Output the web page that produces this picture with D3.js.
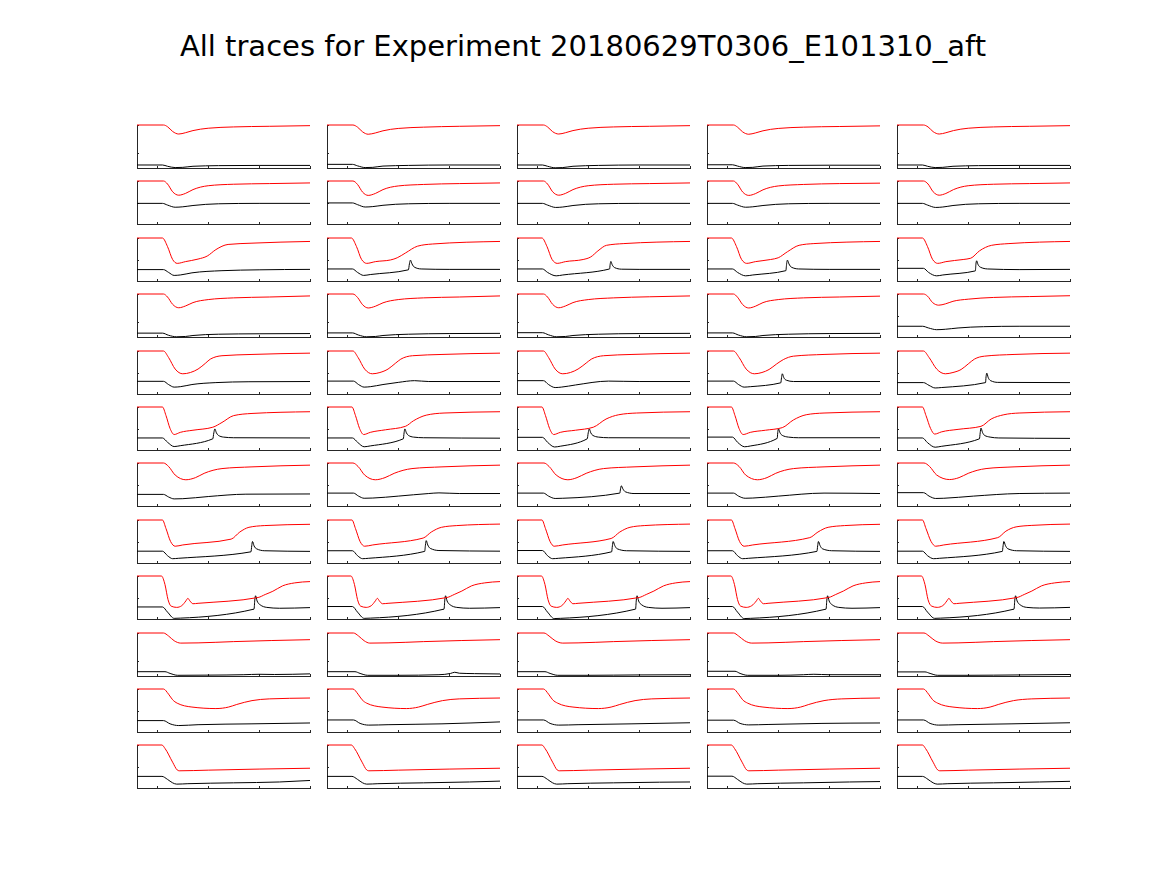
<!DOCTYPE html>
<html><head><meta charset="utf-8">
<script src="https://cdn.jsdelivr.net/npm/d3@7"></script>
<style>body{margin:0;background:#fff}</style></head>
<body>
<svg id="chart" width="1167" height="875"></svg>
<script>
const titleText = "All traces for Experiment 20180629T0306_E101310_aft";
const xDomain = [-0.4, 3];
const xTicks = [0, 1, 2, 3];
// middle y-tick (normalised units, axis spans 0..1) per row, per column
const midTicks = [
  [0.35, 0.35, 0.35, 0.35, 0.35],
  [0.48, 0.48, 0.48, 0.48, 0.48],
  [0.485, 0.485, 0.485, 0.485, 0.485],
  [0.36, 0.36, 0.36, 0.36, 0.485],
  [0.5, 0.5, 0.5, 0.5, 0.5],
  [0.49, 0.49, 0.49, 0.49, 0.49],
  [0.5, 0.5, 0.5, 0.5, 0.5],
  [0.5, 0.5, 0.5, 0.5, 0.5],
  [0.5, 0.5, 0.5, 0.5, 0.5],
  [0.355, 0.355, 0.355, 0.355, 0.355],
  [0.485, 0.485, 0.485, 0.485, 0.485],
  [0.485, 0.485, 0.485, 0.485, 0.485]
];

// ---- row 1 ----
const red1 = [
  [[-0.4,1],[0.12,1],[0.2,0.96],[0.3,0.85],[0.42,0.79],[0.55,0.82],[0.7,0.87],[1,0.925],[1.5,0.955],[2.2,0.97],[3,0.985]],
  [[-0.4,1],[0.11,1],[0.2,0.95],[0.3,0.84],[0.41,0.785],[0.55,0.815],[0.7,0.865],[1,0.92],[1.5,0.95],[2.2,0.97],[3,0.985]],
  [[-0.4,1],[0.12,1],[0.2,0.955],[0.3,0.845],[0.42,0.79],[0.55,0.82],[0.7,0.87],[1,0.925],[1.5,0.955],[2.2,0.97],[3,0.985]],
  [[-0.4,1],[0.12,1],[0.2,0.95],[0.3,0.84],[0.42,0.785],[0.55,0.815],[0.7,0.865],[1,0.92],[1.5,0.95],[2.2,0.965],[3,0.98]],
  [[-0.4,1],[0.12,1],[0.21,0.955],[0.31,0.845],[0.43,0.79],[0.56,0.82],[0.71,0.87],[1,0.925],[1.5,0.955],[2.2,0.97],[3,0.985]]
];
const black1 = [
  [[-0.4,0.07],[0.1,0.07],[0.2,0.04],[0.35,0.01],[0.5,0.015],[0.7,0.04],[1.2,0.055],[2,0.06],[3,0.06]],
  [[-0.4,0.085],[0.1,0.085],[0.2,0.05],[0.35,0.01],[0.5,0.015],[0.7,0.045],[1.2,0.06],[2,0.07],[3,0.07]],
  [[-0.4,0.07],[0.1,0.07],[0.2,0.04],[0.35,0.005],[0.5,0.01],[0.7,0.04],[1.2,0.06],[2,0.07],[3,0.07]],
  [[-0.4,0.075],[0.1,0.075],[0.2,0.045],[0.35,0.01],[0.5,0.015],[0.7,0.045],[1.2,0.06],[2,0.065],[3,0.065]],
  [[-0.4,0.07],[0.1,0.07],[0.2,0.04],[0.35,0.01],[0.5,0.015],[0.7,0.04],[1.2,0.055],[2,0.06],[3,0.06]]
];
// ---- row 2 ----
const red2 = [
  [[-0.4,1],[0.12,1],[0.2,0.93],[0.3,0.75],[0.42,0.67],[0.55,0.71],[0.7,0.8],[1,0.89],[1.5,0.925],[2.2,0.94],[3,0.955]],
  [[-0.4,1],[0.11,1],[0.2,0.92],[0.3,0.74],[0.41,0.665],[0.55,0.71],[0.7,0.8],[1,0.885],[1.5,0.92],[2.2,0.94],[3,0.955]],
  [[-0.4,1],[0.12,1],[0.2,0.93],[0.3,0.75],[0.42,0.67],[0.55,0.71],[0.7,0.8],[1,0.89],[1.5,0.925],[2.2,0.94],[3,0.955]],
  [[-0.4,1],[0.12,1],[0.2,0.925],[0.3,0.745],[0.42,0.665],[0.55,0.705],[0.7,0.795],[1,0.885],[1.5,0.92],[2.2,0.94],[3,0.95]],
  [[-0.4,1],[0.12,1],[0.21,0.93],[0.31,0.75],[0.43,0.67],[0.56,0.71],[0.71,0.8],[1,0.89],[1.5,0.925],[2.2,0.94],[3,0.955]]
];
const black2 = [
  [[-0.4,0.48],[0.1,0.48],[0.2,0.44],[0.35,0.39],[0.5,0.4],[0.7,0.43],[1.2,0.47],[2,0.48],[3,0.48]],
  [[-0.4,0.49],[0.1,0.49],[0.2,0.45],[0.35,0.395],[0.5,0.405],[0.7,0.435],[1.2,0.47],[2,0.48],[3,0.48]],
  [[-0.4,0.48],[0.1,0.48],[0.2,0.44],[0.36,0.385],[0.5,0.395],[0.7,0.43],[1.2,0.47],[2,0.48],[3,0.48]],
  [[-0.4,0.48],[0.1,0.48],[0.2,0.44],[0.36,0.39],[0.5,0.4],[0.7,0.43],[1.2,0.47],[2,0.48],[3,0.48]],
  [[-0.4,0.48],[0.1,0.48],[0.2,0.44],[0.36,0.385],[0.5,0.395],[0.7,0.43],[1.2,0.47],[2,0.48],[3,0.48]]
];
// ---- row 3 ----
const red3 = [
  [[-0.4,1],[0.1,1],[0.2,0.8],[0.3,0.5],[0.39,0.41],[0.55,0.45],[0.8,0.51],[0.98,0.58],[1.15,0.73],[1.39,0.85],[1.86,0.88],[3,0.92]],
  [[-0.4,1],[0.08,1],[0.18,0.8],[0.28,0.5],[0.38,0.41],[0.55,0.45],[0.85,0.49],[0.98,0.54],[1.14,0.65],[1.38,0.81],[1.67,0.86],[3,0.92]],
  [[-0.4,1],[0.09,1],[0.19,0.8],[0.29,0.5],[0.39,0.41],[0.55,0.45],[0.9,0.5],[1.05,0.56],[1.19,0.7],[1.36,0.83],[1.7,0.87],[3,0.92]],
  [[-0.4,1],[0.08,1],[0.18,0.8],[0.28,0.5],[0.38,0.41],[0.55,0.45],[0.85,0.5],[1,0.54],[1.18,0.68],[1.41,0.83],[1.7,0.87],[3,0.92]],
  [[-0.4,1],[0.1,1],[0.2,0.8],[0.3,0.5],[0.4,0.41],[0.56,0.45],[0.9,0.5],[1.05,0.53],[1.22,0.7],[1.46,0.83],[1.8,0.87],[3,0.92]]
];
const black3 = [
  [[-0.4,0.265],[0.12,0.265],[0.22,0.2],[0.33,0.13],[0.45,0.14],[0.68,0.19],[1.27,0.24],[2,0.26],[3,0.27]],
  [[-0.4,0.28],[0.1,0.28],[0.2,0.2],[0.32,0.13],[0.45,0.15],[1.2,0.26],[1.22,0.4],[1.24,0.485],[1.27,0.4],[1.32,0.32],[1.45,0.28],[2,0.27],[3,0.27]],
  [[-0.4,0.28],[0.1,0.28],[0.2,0.2],[0.37,0.12],[0.5,0.14],[1.42,0.28],[1.43,0.38],[1.445,0.455],[1.47,0.38],[1.52,0.31],[1.65,0.275],[2,0.27],[3,0.27]],
  [[-0.4,0.28],[0.1,0.28],[0.2,0.2],[0.36,0.12],[0.5,0.14],[1.15,0.24],[1.165,0.4],[1.18,0.485],[1.21,0.4],[1.26,0.32],[1.4,0.28],[2,0.27],[3,0.27]],
  [[-0.4,0.295],[0.12,0.295],[0.22,0.2],[0.38,0.12],[0.5,0.14],[1.14,0.235],[1.15,0.38],[1.165,0.47],[1.19,0.39],[1.24,0.32],[1.38,0.28],[2,0.265],[3,0.27]]
];
// ---- row 4 ----
const red4 = [
  [[-0.4,1],[0.12,1],[0.2,0.93],[0.3,0.76],[0.42,0.68],[0.55,0.72],[0.7,0.8],[1,0.87],[1.5,0.91],[2.2,0.93],[3,0.955]],
  [[-0.4,1],[0.11,1],[0.2,0.92],[0.3,0.75],[0.41,0.675],[0.55,0.715],[0.7,0.795],[1,0.87],[1.5,0.91],[2.2,0.93],[3,0.955]],
  [[-0.4,1],[0.12,1],[0.2,0.93],[0.3,0.76],[0.42,0.68],[0.55,0.72],[0.7,0.8],[1,0.87],[1.5,0.91],[2.2,0.935],[3,0.955]],
  [[-0.4,1],[0.12,1],[0.2,0.925],[0.3,0.755],[0.42,0.675],[0.55,0.715],[0.7,0.8],[1,0.87],[1.5,0.91],[2.2,0.93],[3,0.95]],
  [[-0.4,1],[0.12,1],[0.2,0.95],[0.3,0.8],[0.42,0.74],[0.55,0.77],[0.7,0.83],[1,0.88],[1.5,0.92],[2.2,0.94],[3,0.96]]
];
const black4 = [
  [[-0.4,0.09],[0.1,0.09],[0.22,0.04],[0.38,0.005],[0.55,0.012],[0.7,0.035],[1.2,0.065],[2,0.075],[3,0.08]],
  [[-0.4,0.095],[0.1,0.095],[0.22,0.045],[0.38,0.005],[0.55,0.012],[0.7,0.035],[1.2,0.065],[2,0.08],[3,0.085]],
  [[-0.4,0.1],[0.1,0.1],[0.22,0.05],[0.38,0.005],[0.55,0.012],[0.7,0.035],[1.2,0.065],[2,0.08],[3,0.085]],
  [[-0.4,0.095],[0.1,0.095],[0.22,0.045],[0.38,0.005],[0.55,0.012],[0.7,0.035],[1.2,0.065],[2,0.08],[3,0.085]],
  [[-0.4,0.25],[0.1,0.25],[0.22,0.21],[0.38,0.17],[0.55,0.18],[0.8,0.21],[1.3,0.24],[2,0.25],[3,0.25]]
];
// ---- row 5 ----
const red5 = [
  [[-0.4,1],[0.12,1],[0.22,0.85],[0.35,0.58],[0.5,0.47],[0.65,0.5],[0.8,0.58],[0.95,0.72],[1.04,0.81],[1.27,0.89],[1.86,0.92],[3,0.95]],
  [[-0.4,1],[0.11,1],[0.21,0.85],[0.34,0.58],[0.49,0.47],[0.64,0.5],[0.8,0.58],[0.95,0.72],[1.05,0.81],[1.28,0.89],[1.86,0.92],[3,0.95]],
  [[-0.4,1],[0.12,1],[0.22,0.85],[0.35,0.58],[0.5,0.47],[0.65,0.5],[0.8,0.58],[0.96,0.72],[1.06,0.81],[1.3,0.89],[1.86,0.92],[3,0.95]],
  [[-0.4,1],[0.12,1],[0.23,0.85],[0.37,0.58],[0.53,0.47],[0.68,0.5],[0.82,0.57],[0.97,0.7],[1.1,0.8],[1.3,0.88],[1.9,0.92],[3,0.95]],
  [[-0.4,1],[0.12,1],[0.23,0.85],[0.38,0.58],[0.55,0.47],[0.7,0.5],[0.86,0.57],[1,0.7],[1.12,0.81],[1.32,0.88],[1.9,0.92],[3,0.95]]
];
const black5 = [
  [[-0.4,0.295],[0.12,0.295],[0.22,0.22],[0.33,0.16],[0.45,0.17],[0.68,0.22],[1.15,0.265],[1.8,0.285],[3,0.29]],
  [[-0.4,0.3],[0.12,0.3],[0.22,0.22],[0.33,0.16],[0.45,0.17],[0.7,0.22],[1,0.27],[1.32,0.31],[1.6,0.29],[3,0.29]],
  [[-0.4,0.31],[0.12,0.31],[0.22,0.22],[0.35,0.15],[0.47,0.16],[0.75,0.21],[1.4,0.3],[2,0.29],[3,0.29]],
  [[-0.4,0.3],[0.12,0.3],[0.22,0.22],[0.33,0.16],[0.45,0.17],[1.05,0.26],[1.065,0.38],[1.08,0.47],[1.11,0.38],[1.16,0.32],[1.3,0.29],[3,0.29]],
  [[-0.4,0.265],[0.12,0.265],[0.23,0.2],[0.35,0.14],[0.47,0.15],[1.34,0.265],[1.35,0.4],[1.365,0.485],[1.39,0.39],[1.44,0.31],[1.58,0.27],[3,0.265]]
];
// ---- row 6 ----
const red6 = [
  [[-0.4,1],[0.1,1],[0.17,0.8],[0.25,0.5],[0.33,0.36],[0.45,0.41],[0.7,0.46],[1.09,0.53],[1.27,0.64],[1.5,0.8],[1.86,0.85],[3,0.89]],
  [[-0.4,1],[0.09,1],[0.16,0.8],[0.24,0.5],[0.32,0.36],[0.45,0.41],[0.75,0.47],[1.14,0.55],[1.3,0.68],[1.55,0.81],[1.9,0.86],[3,0.89]],
  [[-0.4,1],[0.09,1],[0.16,0.8],[0.24,0.5],[0.32,0.36],[0.45,0.41],[0.75,0.46],[1.1,0.53],[1.35,0.72],[1.6,0.82],[1.95,0.86],[3,0.89]],
  [[-0.4,1],[0.08,1],[0.15,0.8],[0.23,0.5],[0.31,0.36],[0.45,0.41],[0.75,0.46],[1.08,0.52],[1.3,0.7],[1.55,0.82],[1.9,0.86],[3,0.89]],
  [[-0.4,1],[0.1,1],[0.17,0.8],[0.26,0.5],[0.34,0.37],[0.47,0.42],[0.8,0.48],[1.25,0.55],[1.45,0.72],[1.7,0.82],[2,0.86],[3,0.89]]
];
const black6 = [
  [[-0.4,0.28],[0.1,0.28],[0.2,0.18],[0.33,0.08],[0.45,0.1],[1.09,0.26],[1.11,0.4],[1.13,0.49],[1.16,0.4],[1.2,0.34],[1.3,0.3],[1.5,0.285],[3,0.28]],
  [[-0.4,0.28],[0.1,0.28],[0.2,0.18],[0.33,0.075],[0.45,0.095],[1.1,0.26],[1.115,0.4],[1.13,0.49],[1.16,0.4],[1.2,0.34],[1.3,0.3],[1.5,0.285],[3,0.275]],
  [[-0.4,0.295],[0.1,0.295],[0.2,0.18],[0.34,0.07],[0.46,0.09],[0.98,0.26],[1,0.4],[1.02,0.49],[1.05,0.4],[1.09,0.34],[1.2,0.3],[1.4,0.285],[3,0.28]],
  [[-0.4,0.3],[0.1,0.3],[0.2,0.18],[0.34,0.075],[0.46,0.095],[0.98,0.27],[0.99,0.4],[1.005,0.49],[1.035,0.4],[1.08,0.34],[1.2,0.3],[1.4,0.285],[3,0.285]],
  [[-0.4,0.28],[0.1,0.28],[0.2,0.17],[0.35,0.065],[0.47,0.085],[1.22,0.26],[1.235,0.4],[1.25,0.51],[1.28,0.41],[1.32,0.34],[1.43,0.3],[1.6,0.28],[3,0.27]]
];
// ---- row 7 ----
const red7 = [
  [[-0.4,1],[0.12,1],[0.22,0.92],[0.35,0.72],[0.56,0.61],[0.75,0.66],[0.92,0.76],[1.27,0.87],[1.86,0.91],[3,0.95]],
  [[-0.4,1],[0.11,1],[0.21,0.92],[0.34,0.72],[0.55,0.61],[0.74,0.66],[0.92,0.76],[1.27,0.87],[1.86,0.91],[3,0.95]],
  [[-0.4,1],[0.13,1],[0.23,0.92],[0.37,0.72],[0.6,0.61],[0.78,0.66],[0.96,0.76],[1.3,0.87],[1.9,0.91],[3,0.95]],
  [[-0.4,1],[0.12,1],[0.23,0.92],[0.36,0.72],[0.59,0.61],[0.78,0.66],[0.95,0.76],[1.3,0.87],[1.9,0.91],[3,0.95]],
  [[-0.4,1],[0.13,1],[0.24,0.92],[0.38,0.72],[0.63,0.615],[0.82,0.66],[1,0.76],[1.35,0.87],[1.9,0.91],[3,0.95]]
];
const black7 = [
  [[-0.4,0.27],[0.12,0.27],[0.22,0.21],[0.33,0.165],[0.5,0.17],[1,0.22],[1.74,0.275],[3,0.28]],
  [[-0.4,0.3],[0.12,0.3],[0.22,0.23],[0.33,0.18],[0.5,0.185],[1,0.23],[1.6,0.29],[1.8,0.305],[2.2,0.29],[3,0.29]],
  [[-0.4,0.3],[0.12,0.3],[0.22,0.23],[0.35,0.175],[0.5,0.18],[1.62,0.3],[1.635,0.4],[1.65,0.47],[1.68,0.4],[1.73,0.33],[1.9,0.29],[3,0.29]],
  [[-0.4,0.3],[0.12,0.3],[0.22,0.23],[0.35,0.18],[0.5,0.185],[1,0.23],[1.9,0.3],[3,0.29]],
  [[-0.4,0.31],[0.12,0.31],[0.23,0.23],[0.36,0.175],[0.52,0.18],[1.1,0.23],[2,0.29],[3,0.3]]
];
// ---- row 8 ----
const red8 = [
  [[-0.4,1],[0.1,1],[0.17,0.8],[0.26,0.5],[0.35,0.39],[0.5,0.42],[1.45,0.555],[1.62,0.72],[1.8,0.83],[2.1,0.87],[3,0.9]],
  [[-0.4,1],[0.09,1],[0.16,0.8],[0.25,0.5],[0.34,0.39],[0.5,0.42],[1.49,0.58],[1.65,0.72],[1.85,0.83],[2.15,0.87],[3,0.905]],
  [[-0.4,1],[0.09,1],[0.16,0.8],[0.25,0.5],[0.33,0.39],[0.5,0.42],[1.45,0.57],[1.62,0.72],[1.82,0.83],[2.1,0.87],[3,0.905]],
  [[-0.4,1],[0.08,1],[0.15,0.8],[0.24,0.5],[0.33,0.39],[0.5,0.42],[1.62,0.59],[1.78,0.72],[1.98,0.83],[2.3,0.87],[3,0.9]],
  [[-0.4,1],[0.1,1],[0.17,0.8],[0.27,0.5],[0.36,0.39],[0.52,0.42],[1.58,0.59],[1.74,0.74],[1.94,0.84],[2.25,0.875],[3,0.905]]
];
const black8 = [
  [[-0.4,0.275],[0.1,0.275],[0.2,0.17],[0.3,0.1],[0.42,0.11],[1.84,0.26],[1.855,0.4],[1.87,0.5],[1.9,0.4],[1.95,0.33],[2.1,0.285],[3,0.27]],
  [[-0.4,0.285],[0.1,0.285],[0.2,0.17],[0.3,0.1],[0.42,0.11],[1.52,0.27],[1.535,0.42],[1.55,0.52],[1.58,0.42],[1.63,0.34],[1.8,0.29],[3,0.275]],
  [[-0.4,0.29],[0.1,0.29],[0.2,0.17],[0.3,0.1],[0.42,0.11],[1.46,0.26],[1.475,0.4],[1.49,0.5],[1.52,0.41],[1.57,0.33],[1.75,0.285],[3,0.27]],
  [[-0.4,0.285],[0.1,0.285],[0.2,0.17],[0.3,0.1],[0.42,0.11],[1.76,0.27],[1.775,0.4],[1.79,0.5],[1.82,0.41],[1.87,0.33],[2.05,0.285],[3,0.27]],
  [[-0.4,0.275],[0.1,0.275],[0.2,0.17],[0.32,0.1],[0.44,0.11],[1.67,0.27],[1.685,0.4],[1.7,0.5],[1.73,0.41],[1.78,0.33],[1.95,0.285],[3,0.27]]
];
// ---- row 9 ----
const red9 = [
  [[-0.4,1],[0.08,1],[0.15,0.8],[0.21,0.45],[0.27,0.3],[0.38,0.27],[0.48,0.31],[0.56,0.42],[0.6,0.48],[0.64,0.42],[0.7,0.355],[0.8,0.365],[1.98,0.5],[2.12,0.57],[2.27,0.645],[2.46,0.77],[2.7,0.84],[3,0.87]],
  [[-0.4,1],[0.07,1],[0.14,0.8],[0.2,0.45],[0.26,0.3],[0.37,0.27],[0.47,0.31],[0.55,0.42],[0.59,0.48],[0.63,0.42],[0.69,0.355],[0.8,0.365],[1.96,0.5],[2.1,0.57],[2.25,0.65],[2.44,0.77],[2.7,0.84],[3,0.87]],
  [[-0.4,1],[0.08,1],[0.15,0.8],[0.21,0.45],[0.27,0.3],[0.38,0.27],[0.48,0.31],[0.56,0.42],[0.6,0.48],[0.64,0.42],[0.7,0.355],[0.8,0.365],[2,0.5],[2.14,0.57],[2.29,0.65],[2.48,0.77],[2.72,0.84],[3,0.87]],
  [[-0.4,1],[0.07,1],[0.14,0.8],[0.2,0.45],[0.26,0.3],[0.37,0.27],[0.48,0.31],[0.57,0.42],[0.61,0.48],[0.65,0.42],[0.71,0.355],[0.8,0.365],[1.99,0.5],[2.13,0.57],[2.28,0.65],[2.47,0.77],[2.72,0.84],[3,0.87]],
  [[-0.4,1],[0.08,1],[0.15,0.8],[0.21,0.45],[0.28,0.3],[0.39,0.27],[0.5,0.31],[0.58,0.42],[0.62,0.48],[0.66,0.42],[0.72,0.355],[0.82,0.365],[1.96,0.5],[2.1,0.57],[2.25,0.65],[2.44,0.77],[2.7,0.84],[3,0.87]]
];
const black9 = [
  [[-0.4,0.28],[0.1,0.28],[0.2,0.16],[0.33,0.015],[0.45,0.02],[1.9,0.23],[1.915,0.44],[1.93,0.54],[1.96,0.42],[2.02,0.33],[2.15,0.27],[2.4,0.25],[3,0.265]],
  [[-0.4,0.29],[0.1,0.29],[0.2,0.16],[0.33,0.015],[0.45,0.02],[1.9,0.23],[1.915,0.44],[1.93,0.54],[1.96,0.42],[2.02,0.33],[2.15,0.27],[2.4,0.25],[3,0.265]],
  [[-0.4,0.29],[0.1,0.29],[0.2,0.16],[0.33,0.01],[0.45,0.015],[1.93,0.23],[1.945,0.44],[1.96,0.54],[1.99,0.42],[2.05,0.33],[2.18,0.27],[2.45,0.25],[3,0.265]],
  [[-0.4,0.29],[0.1,0.29],[0.2,0.16],[0.33,0.01],[0.45,0.015],[1.94,0.23],[1.955,0.44],[1.97,0.54],[2,0.42],[2.06,0.33],[2.19,0.27],[2.45,0.25],[3,0.265]],
  [[-0.4,0.29],[0.1,0.29],[0.2,0.16],[0.34,0.015],[0.46,0.02],[1.9,0.23],[1.915,0.44],[1.93,0.54],[1.96,0.42],[2.02,0.33],[2.15,0.27],[2.4,0.255],[3,0.27]]
];
// ---- row 10 ----
const red10 = [
  [[-0.4,1],[0.12,1],[0.22,0.93],[0.33,0.82],[0.46,0.765],[0.8,0.77],[1.5,0.8],[3,0.845]],
  [[-0.4,1],[0.12,1],[0.22,0.93],[0.33,0.82],[0.44,0.765],[0.8,0.77],[1.5,0.8],[3,0.845]],
  [[-0.4,1],[0.13,1],[0.23,0.93],[0.35,0.82],[0.5,0.765],[0.8,0.77],[1.5,0.8],[3,0.845]],
  [[-0.4,1],[0.12,1],[0.22,0.93],[0.34,0.82],[0.48,0.765],[0.8,0.77],[1.5,0.8],[3,0.845]],
  [[-0.4,1],[0.13,1],[0.23,0.93],[0.35,0.82],[0.5,0.765],[0.8,0.77],[1.5,0.8],[3,0.845]]
];
const black10 = [
  [[-0.4,0.1],[0.15,0.1],[0.25,0.06],[0.4,0.016],[1,0.02],[1.7,0.03],[2,0.04],[2.3,0.035],[3,0.05]],
  [[-0.4,0.1],[0.15,0.1],[0.25,0.06],[0.4,0.016],[1,0.016],[1.8,0.03],[2.03,0.06],[2.11,0.087],[2.2,0.065],[2.5,0.055],[3,0.047]],
  [[-0.4,0.1],[0.15,0.1],[0.25,0.06],[0.4,0.016],[1,0.016],[2,0.025],[3,0.03]],
  [[-0.4,0.11],[0.15,0.11],[0.25,0.06],[0.4,0.016],[1,0.016],[1.5,0.03],[1.7,0.04],[2,0.03],[3,0.03]],
  [[-0.4,0.095],[0.15,0.095],[0.25,0.06],[0.4,0.016],[1,0.016],[2,0.025],[3,0.035]]
];
// ---- row 11 ----
const red11 = [
  [[-0.4,1],[0.12,1],[0.22,0.88],[0.3,0.75],[0.39,0.67],[0.68,0.58],[1.15,0.545],[1.4,0.58],[1.56,0.64],[1.86,0.73],[2.2,0.77],[3,0.79]],
  [[-0.4,1],[0.11,1],[0.21,0.88],[0.29,0.75],[0.38,0.67],[0.68,0.58],[1.16,0.545],[1.4,0.58],[1.57,0.64],[1.87,0.73],[2.2,0.77],[3,0.79]],
  [[-0.4,1],[0.12,1],[0.22,0.88],[0.3,0.75],[0.4,0.67],[0.7,0.58],[1.2,0.545],[1.45,0.58],[1.62,0.64],[1.92,0.73],[2.25,0.77],[3,0.79]],
  [[-0.4,1],[0.12,1],[0.22,0.88],[0.3,0.75],[0.4,0.67],[0.7,0.58],[1.19,0.545],[1.44,0.58],[1.6,0.64],[1.9,0.73],[2.25,0.77],[3,0.79]],
  [[-0.4,1],[0.12,1],[0.22,0.88],[0.3,0.75],[0.4,0.67],[0.7,0.58],[1.18,0.545],[1.43,0.58],[1.59,0.64],[1.89,0.73],[2.25,0.77],[3,0.79]]
];
const black11 = [
  [[-0.4,0.265],[0.12,0.265],[0.25,0.19],[0.42,0.15],[0.8,0.17],[1.86,0.19],[3,0.21]],
  [[-0.4,0.28],[0.12,0.28],[0.25,0.2],[0.42,0.16],[0.8,0.17],[1.86,0.19],[3,0.235]],
  [[-0.4,0.28],[0.12,0.28],[0.25,0.2],[0.42,0.16],[0.8,0.17],[1.86,0.19],[3,0.215]],
  [[-0.4,0.275],[0.12,0.275],[0.25,0.2],[0.42,0.165],[0.8,0.175],[1.86,0.2],[3,0.21]],
  [[-0.4,0.28],[0.12,0.28],[0.25,0.2],[0.42,0.16],[0.8,0.17],[1.86,0.19],[3,0.215]]
];
// ---- row 12 ----
const red12 = [
  [[-0.4,1],[0.09,1],[0.15,0.92],[0.3,0.6],[0.39,0.42],[0.43,0.4],[1,0.415],[2,0.44],[3,0.46]],
  [[-0.4,1],[0.08,1],[0.14,0.92],[0.29,0.6],[0.38,0.42],[0.42,0.4],[1,0.415],[2,0.44],[3,0.46]],
  [[-0.4,1],[0.09,1],[0.15,0.92],[0.3,0.6],[0.39,0.42],[0.43,0.4],[1,0.415],[2,0.44],[3,0.46]],
  [[-0.4,1],[0.08,1],[0.14,0.92],[0.29,0.6],[0.38,0.42],[0.42,0.4],[1,0.415],[2,0.44],[3,0.46]],
  [[-0.4,1],[0.1,1],[0.16,0.92],[0.31,0.6],[0.4,0.42],[0.44,0.4],[1,0.415],[2,0.44],[3,0.46]]
];
const black12 = [
  [[-0.4,0.27],[0.09,0.27],[0.2,0.2],[0.3,0.12],[0.38,0.09],[0.6,0.1],[1.5,0.12],[2.4,0.14],[3,0.175]],
  [[-0.4,0.27],[0.09,0.27],[0.2,0.2],[0.3,0.12],[0.38,0.09],[0.6,0.1],[1.5,0.12],[2.4,0.14],[3,0.16]],
  [[-0.4,0.27],[0.09,0.27],[0.2,0.2],[0.3,0.12],[0.38,0.09],[0.6,0.1],[1.5,0.12],[2.4,0.135],[3,0.14]],
  [[-0.4,0.275],[0.09,0.275],[0.2,0.2],[0.3,0.12],[0.38,0.09],[0.6,0.1],[1.5,0.12],[2.4,0.14],[3,0.15]],
  [[-0.4,0.27],[0.1,0.27],[0.21,0.2],[0.31,0.12],[0.39,0.09],[0.6,0.1],[1.5,0.12],[2.4,0.14],[3,0.155]]
];

const redRows = [red1, red2, red3, red4, red5, red6, red7, red8, red9, red10, red11, red12];
const blackRows = [black1, black2, black3, black4, black5, black6, black7, black8, black9, black10, black11, black12];

// ---- layout ----
const svg = d3.select("#chart");
const panelW = 173, panelH = 43;
const left0 = 137, top0 = 125, colStep = 190, rowStep = 56.4;
const axisColor = "#262626";
const tickLen = 2;

svg.append("text")
  .attr("x", 583).attr("y", 56)
  .attr("text-anchor", "middle")
  .attr("font-family", "DejaVu Sans, sans-serif")
  .attr("font-size", 29)
  .attr("fill", "#000")
  .text(titleText);

const x = d3.scaleLinear().domain(xDomain).range([0, panelW]);
const y = d3.scaleLinear().domain([0, 1]).range([panelH, 0]);
const line = d3.line().x(d => x(d[0])).y(d => y(d[1])).curve(d3.curveMonotoneX);

redRows.forEach((row, r) => {
  row.forEach((redPts, c) => {
    const g = svg.append("g")
      .attr("transform", `translate(${left0 + colStep * c},${Math.round(top0 + rowStep * r)})`);
    const xAxis = d3.axisBottom(x).tickValues(xTicks).tickSize(-tickLen).tickSizeOuter(0).tickFormat("");
    const yAxis = d3.axisLeft(y).tickValues([midTicks[r][c], 1]).tickSize(-tickLen).tickSizeOuter(0).tickFormat("");
    const gx = g.append("g").attr("transform", `translate(0,${panelH})`).call(xAxis);
    const gy = g.append("g").call(yAxis);
    [gx, gy].forEach(a => {
      a.selectAll("path").attr("stroke", axisColor).attr("stroke-width", 1).attr("shape-rendering", "crispEdges");
      a.selectAll("line").attr("stroke", axisColor).attr("stroke-width", 1).attr("shape-rendering", "crispEdges");
    });
    g.append("path").datum(blackRows[r][c])
      .attr("fill", "none").attr("stroke", "#000").attr("stroke-width", 1).attr("d", line);
    g.append("path").datum(redPts)
      .attr("fill", "none").attr("stroke", "#ff0000").attr("stroke-width", 1).attr("d", line);
  });
});
</script>
</body></html>
